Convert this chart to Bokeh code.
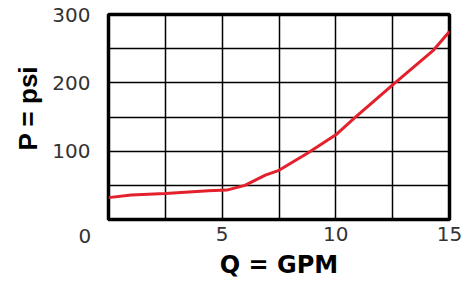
from bokeh.plotting import figure
from bokeh.models import FixedTicker, Range1d, Title
from bokeh.embed import file_html
from bokeh.resources import INLINE

# data
flow_gpm = [0, 1, 2.5, 4.4, 5.2, 6.0, 6.9, 7.5, 8.75, 10.0, 10.8, 12.5, 14.3, 15.0]
pressure_psi = [32, 36, 38, 42, 43, 50, 65, 72, 97, 124, 148, 197, 248, 275]

x_tick_labels = [5, 10, 15]
y_tick_labels = [100, 200, 300]
x_grid = [0, 2.5, 5, 7.5, 10, 12.5, 15]
y_grid = [0, 50, 100, 150, 200, 250, 300]
origin_label = "0"

TICK_FONT = "DejaVu Sans"
TITLE_FONT_X = "DejaVu Sans"
TITLE_FONT_Y = "Liberation Sans"

p = figure(width=462, height=283, output_backend="svg", toolbar_location=None,
           x_range=Range1d(0, 15), y_range=Range1d(0, 300),
           min_border_left=108, min_border_right=13, min_border_top=14, min_border_bottom=64)

p.outline_line_color = "black"
p.outline_line_width = 3.5
p.outline_line_alpha = 1
p.background_fill_color = "white"
p.border_fill_color = "white"

p.xgrid.ticker = FixedTicker(ticks=x_grid)
p.ygrid.ticker = FixedTicker(ticks=y_grid)
for g in (p.xgrid, p.ygrid):
    g.grid_line_color = "black"
    g.grid_line_width = 1.5
    g.grid_line_alpha = 1

p.xaxis.ticker = FixedTicker(ticks=x_tick_labels)
p.yaxis.ticker = FixedTicker(ticks=y_tick_labels)
for ax in (p.xaxis, p.yaxis):
    ax.axis_line_color = None
    ax.major_tick_line_color = None
    ax.minor_tick_line_color = None
    ax.major_label_text_font = TICK_FONT
    ax.major_label_text_font_size = "20px"
    ax.major_label_text_color = "#333333"
p.yaxis.major_label_standoff = 12

p.xaxis.axis_label = "Q = GPM"
p.xaxis.axis_label_text_font = TITLE_FONT_X
p.xaxis.axis_label_text_font_style = "bold"
p.xaxis.axis_label_text_font_size = "24px"
p.xaxis.axis_label_text_color = "black"
p.xaxis.axis_label_standoff = 7

p.line(flow_gpm, pressure_psi, line_color="#e3202c", line_width=3)

# the "0" at the lower-left corner, in a panel just under the frame
t0 = Title(text=origin_label, align="left", offset=-30, standoff=16,
           vertical_align="middle",
           text_font=TICK_FONT, text_font_style="normal", text_font_size="20px",
           text_color="#333333")
p.below = [t0] + list(p.below)
p.xaxis.major_label_standoff = -31

# y axis title, placed as a rotated title on the left
ty = Title(text="P = psi", align="left", offset=69, standoff=13,
           vertical_align="bottom",
           text_font=TITLE_FONT_Y, text_font_style="bold", text_font_size="26px",
           text_color="black")
p.add_layout(ty, "left")

open("out.html", "w").write(file_html(p, INLINE))
